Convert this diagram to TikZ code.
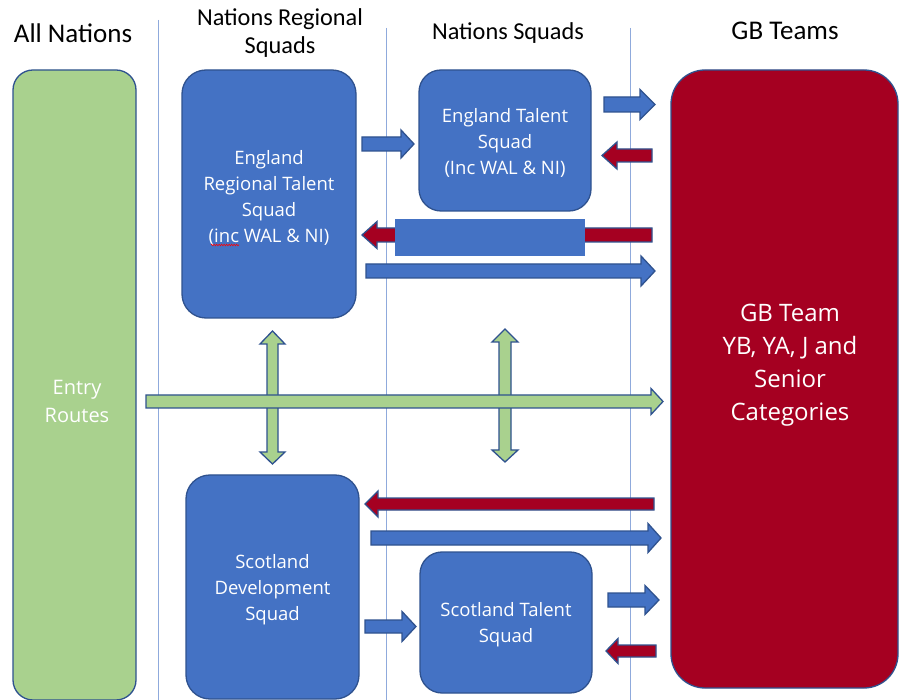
\documentclass[tikz,border=0pt]{standalone}
\usepackage{fontspec}
\setmainfont{Carlito}
\newfontfamily\boxfont{Open Sans}
\usetikzlibrary{decorations.pathmorphing}
\definecolor{boxblue}{HTML}{4472C4}
\definecolor{edgeblue}{HTML}{2F528F}
\definecolor{gbred}{HTML}{A50021}
\definecolor{entrygreen}{HTML}{A9D18E}
\definecolor{gridblue}{HTML}{8FAADC}
\tikzset{
  sq/.style={draw=edgeblue, line width=1.3pt, fill=boxblue, rounded corners=24pt, inner sep=0pt},
  hdr/.style={font=\fontsize{24}{28}\selectfont, align=center, text=black},
  boxtxt/.style={text=white, align=center, font=\boxfont\fontsize{18.5}{26}\selectfont},
  colline/.style={draw=gridblue, line width=0.9pt},
  arr/.style={draw=edgeblue, line width=1.3pt, line join=miter},
}
% #1 fill, #2 tail x, #3 tip x, #4 centre y, #5 shaft half, #6 head half, #7 head base x
\newcommand\blockarr[7]{%
  \filldraw[arr, fill=#1] (#2,#4-#5) -- (#7,#4-#5) -- (#7,#4-#6) -- (#3,#4)
    -- (#7,#4+#6) -- (#7,#4+#5) -- (#2,#4+#5) -- cycle;}
% vertical double arrow: #1 cx, #2 shaft half, #3 head half, #4 top tip, #5 top base, #6 bottom base, #7 bottom tip
\newcommand\vdblarr[7]{%
  \filldraw[arr, fill=entrygreen] (#1,#4) -- (#1+#3,#5) -- (#1+#2,#5) -- (#1+#2,#6) -- (#1+#3,#6)
    -- (#1,#7) -- (#1-#3,#6) -- (#1-#2,#6) -- (#1-#2,#5) -- (#1-#3,#5) -- cycle;}
\begin{document}
\begin{tikzpicture}[x=1pt, y=-1pt]
\useasboundingbox (0,0) rectangle (900,700);
\fill[white] (0,0) rectangle (900,700);
% column lines
\draw[colline] (158,20) -- (158,700);
\draw[colline] (386,28) -- (386,700);
\draw[colline] (630,28) -- (630,700);
% headers
\node[hdr, font=\fontsize{27}{28}\selectfont] (h1) at (73,33) {All Nations};
\node[hdr, font=\fontsize{24.3}{28}\selectfont] (h2) at (280,33) {Nations Regional\\Squads};
\node[hdr, font=\fontsize{24.3}{28}\selectfont] (h3) at (508,33) {Nations Squads};
\node[hdr, font=\fontsize{27}{28}\selectfont] (h4) at (785,31) {GB Teams};
% boxes
\node[sq, fill=entrygreen, rounded corners=20pt, minimum width=123pt, minimum height=630pt] (entry) at (74.5,385) {};
\node[boxtxt, font=\boxfont\fontsize{20}{28}\selectfont] (entrytxt) at (77,401) {Entry\\Routes};
\node[sq, minimum width=174pt, minimum height=248pt] (er) at (269,194) {};
\node[boxtxt] (ertxt) at (269,198) {England\\Regional Talent\\Squad\\(inc WAL \& NI)};
\node[sq, rounded corners=22pt, minimum width=172pt, minimum height=141pt] (et) at (505,140.5) {};
\node[boxtxt] (ettxt) at (505,143) {England Talent\\Squad\\(Inc WAL \& NI)};
\node[sq, minimum width=173pt, minimum height=224pt] (sd) at (272.5,587) {};
\node[boxtxt] (sdtxt) at (272.5,590) {Scotland\\Development\\Squad};
\node[sq, rounded corners=22pt, minimum width=172pt, minimum height=141pt] (st) at (506,622.5) {};
\node[boxtxt] (sttxt) at (506,625) {Scotland Talent\\Squad};
\node[sq, fill=gbred, rounded corners=34pt, minimum width=227pt, minimum height=618pt] (gb) at (784.5,379) {};
\node[boxtxt, font=\boxfont\fontsize{24}{33}\selectfont] (gbtxt) at (790,365) {GB Team\\YB, YA, J and\\Senior\\Categories};
% spell-check squiggle under "inc"
\draw[red, line width=0.6pt, decorate, decoration={zigzag, amplitude=0.8pt, segment length=2.5pt}] (211,245) -- (239,245);
% arrows, top
\blockarr{boxblue}{362}{414}{144}{7}{14}{401}
\blockarr{boxblue}{604}{655}{104.5}{7.5}{15}{640}
\blockarr{gbred}{652}{602}{155.5}{6.5}{13.5}{617}
\blockarr{gbred}{652}{362}{235}{7}{13.5}{377}
\fill[boxblue] (395,219) rectangle (585,256);
\blockarr{boxblue}{366}{655}{271}{7}{15}{641}
% green arrows
\vdblarr{272.5}{5.5}{12.5}{331}{344}{452}{464}
\vdblarr{505}{6}{13}{329}{342}{450}{462}
\blockarr{entrygreen}{146}{663}{401.5}{6.5}{13}{651}
% arrows, bottom
\blockarr{gbred}{654}{365}{504}{6}{13}{378}
\blockarr{boxblue}{371}{661}{538}{7}{14.5}{648}
\blockarr{boxblue}{365}{416}{626.5}{6.5}{15}{402}
\blockarr{boxblue}{608}{659}{600}{7}{14.5}{645}
\blockarr{gbred}{656}{606}{651}{6}{12.5}{618}
\end{tikzpicture}
\end{document}
